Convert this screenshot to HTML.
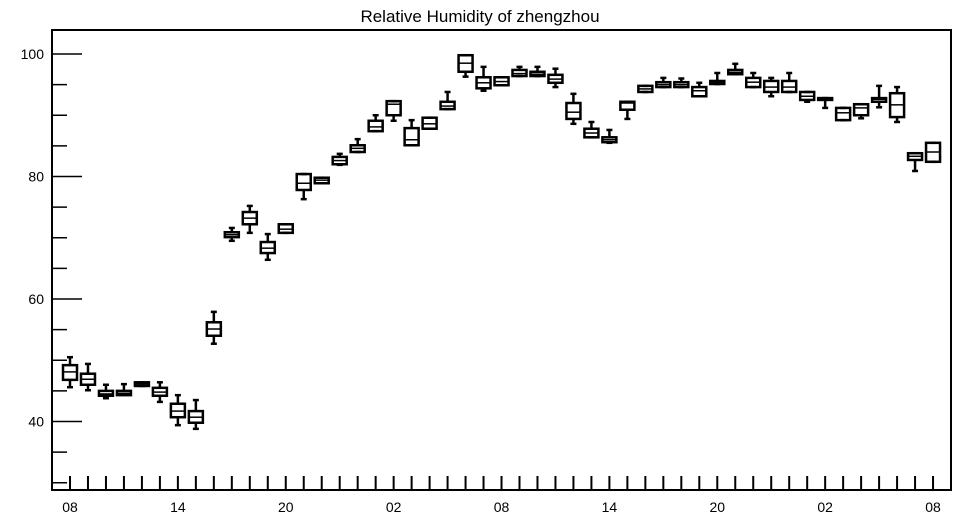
<!DOCTYPE html>
<html><head><meta charset="utf-8"><style>
html,body{margin:0;padding:0;background:#fff;}
svg{display:block;font-family:"Liberation Sans",sans-serif;}
</style></head><body>
<svg id="chart" width="957" height="520" viewBox="0 0 957 520">
<text x="480" y="22" text-anchor="middle" font-size="17">Relative Humidity of zhengzhou</text>
<rect x="52" y="30" width="899" height="460" fill="none" stroke="#000" stroke-width="2"/>
<g id="axes"></g>
<g id="boxes"></g>
</svg>
<script>
// hourly boxes starting 08:00, 49 hours
const q3  =[49.2,47.8,45.0,45.0,46.4,45.5,42.9,41.7,56.2,70.9,74.2,69.3,72.2,80.4,79.8,83.2,85.1,89.1,92.3,87.9,89.6,92.2,99.8,96.2,96.2,97.4,97.1,96.6,92.0,87.8,86.4,92.2,94.8,95.4,95.4,94.6,95.6,97.4,96.1,95.6,95.6,93.8,92.8,91.2,91.8,92.8,93.6,83.8,85.5];
const q1  =[46.8,46.0,44.2,44.3,45.8,44.2,40.7,39.8,54.0,70.1,72.2,67.5,70.8,77.8,78.9,82.0,84.0,87.4,90.0,85.1,87.8,91.0,97.1,94.4,94.9,96.4,96.4,95.3,89.4,86.4,85.6,90.9,93.8,94.6,94.6,93.1,95.1,96.7,94.6,93.8,93.8,92.5,92.5,89.2,90.0,92.2,89.7,82.7,82.4];
const med =[48.1,46.9,44.5,44.6,46.1,44.8,41.7,40.7,55.1,70.5,73.2,68.3,71.4,78.9,79.4,82.6,84.6,88.1,91.8,86.0,88.6,91.5,98.5,95.3,95.5,96.8,96.7,95.9,90.5,87.1,86.0,92.0,94.3,95.0,95.0,94.0,95.4,97.0,95.4,94.6,94.6,93.1,92.7,90.4,91.2,92.6,91.7,83.3,84.0];
const vmax=[50.5,49.4,46.0,46.1,46.4,46.4,44.3,43.5,57.9,71.6,75.2,70.6,72.2,80.4,79.8,83.7,86.1,90.0,92.3,89.2,89.6,93.8,99.8,97.9,96.2,97.9,97.9,97.6,93.5,88.9,87.6,92.2,94.8,96.1,96.0,95.3,96.9,98.4,96.9,96.1,96.9,93.8,92.8,91.2,91.8,94.8,94.6,83.8,85.5];
const vmin=[45.6,45.1,43.8,44.4,45.8,43.2,39.4,38.8,52.7,69.5,70.8,66.4,70.8,76.3,78.9,81.9,84.0,87.4,89.1,85.1,87.8,91.0,96.3,94.0,94.9,96.4,96.4,94.6,88.6,86.4,85.5,89.4,93.8,94.6,94.6,93.1,95.1,96.7,94.6,93.1,93.8,92.2,91.2,89.2,89.5,91.3,88.9,80.9,82.4];
const yTicks=[40,60,80,100];
const xLabels=["08","14","20","02","08","14","20","02","08"];

const NS="http://www.w3.org/2000/svg";
const X0=70, DX=17.98, Y100=54, PPU=6.125;
const xs=i=>X0+i*DX;
const ys=v=>Y100+(100-v)*PPU;
function mk(tag,attrs,parent){const e=document.createElementNS(NS,tag);for(const k in attrs)e.setAttribute(k,attrs[k]);parent.appendChild(e);return e;}
const ax=document.getElementById('axes');
for(let v=30;v<=100;v+=5){
  const major=yTicks.includes(v);
  const t=mk('line',{x1:52,x2:52+(major?30:15),y1:ys(v),y2:ys(v),stroke:'#000','stroke-width':1.5},ax);
  
  
}
yTicks.forEach(v=>{
  const t=mk('text',{x:44,y:ys(v)+5,'text-anchor':'end','font-size':14},ax);
  t.textContent=v;
  
  
});
for(let i=0;i<med.length;i++){
  const t=mk('line',{x1:xs(i),x2:xs(i),y1:490,y2:476,stroke:'#000','stroke-width':2},ax);
  
  
}
xLabels.forEach((l,k)=>{
  const t=mk('text',{x:xs(k*6),y:512,'text-anchor':'middle','font-size':14},ax);
  t.textContent=l;
  
  
});
const bg=document.getElementById('boxes');
for(let i=0;i<med.length;i++){
  const g=mk('g',{stroke:'#000','stroke-width':2.5,fill:'none'},bg);
  
  
  const x=xs(i),w=7;
  mk('line',{x1:x,x2:x,y1:ys(vmax[i]),y2:ys(q3[i])},g);
  mk('line',{x1:x,x2:x,y1:ys(q1[i]),y2:ys(vmin[i])},g);
  mk('line',{x1:x-3,x2:x+3,y1:ys(vmax[i]),y2:ys(vmax[i])},g);
  mk('line',{x1:x-3,x2:x+3,y1:ys(vmin[i]),y2:ys(vmin[i])},g);
  mk('rect',{x:x-w,y:ys(q3[i]),width:2*w,height:Math.max(1,ys(q1[i])-ys(q3[i]))},g);
  mk('line',{x1:x-w,x2:x+w,y1:ys(med[i]),y2:ys(med[i]),'stroke-width':1.5},g);
}
</script>
</body></html>
